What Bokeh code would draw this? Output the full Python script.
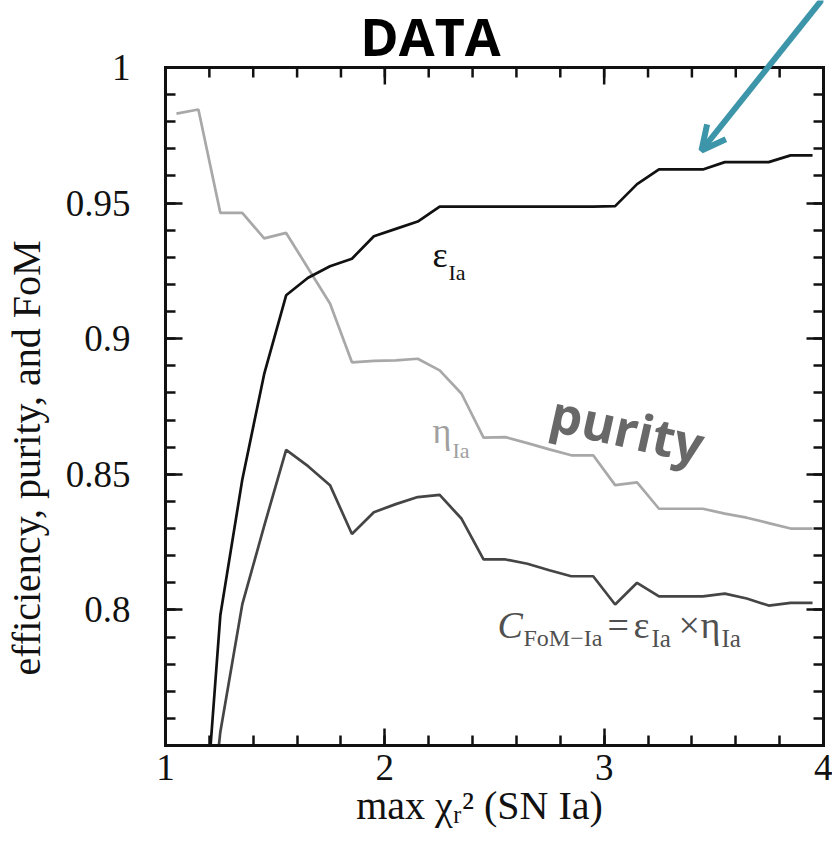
from bokeh.plotting import figure
from bokeh.models import (Range1d, LinearAxis, FixedTicker, CustomJSTickFormatter,
                          Label, Arrow, OpenHead)
from bokeh.embed import file_html
from bokeh.resources import INLINE
import numpy as np

# ---------------- data ----------------
max_chi2 = [1.05, 1.15, 1.25, 1.35, 1.45, 1.55, 1.65, 1.75, 1.85, 1.95,
            2.05, 2.15, 2.25, 2.35, 2.45, 2.55, 2.65, 2.75, 2.85, 2.95,
            3.05, 3.15, 3.25, 3.35, 3.45, 3.55, 3.65, 3.75, 3.85, 3.95]

efficiency = [0.600, 0.690, 0.798, 0.848, 0.887, 0.916, 0.9225, 0.9267, 0.9295, 0.9378,
              0.9405, 0.9432, 0.9487, 0.9487, 0.9487, 0.9487, 0.9487, 0.9487, 0.9487, 0.9487,
              0.9489, 0.9570, 0.9624, 0.9624, 0.9624, 0.9651, 0.9651, 0.9651, 0.9676, 0.9676]

purity = [0.983, 0.9845, 0.9464, 0.9464, 0.937, 0.939, 0.926, 0.913, 0.8913, 0.8918,
          0.892, 0.8926, 0.8883, 0.8797, 0.8635, 0.8637, 0.8615, 0.8592, 0.857, 0.857,
          0.846, 0.847, 0.8373, 0.8373, 0.8373, 0.8355, 0.834, 0.832, 0.830, 0.830]

fom = [0.590, 0.680, 0.755, 0.802, 0.831, 0.859, 0.853, 0.846, 0.828, 0.836,
       0.839, 0.8416, 0.8424, 0.8336, 0.8186, 0.8186, 0.817, 0.8146, 0.8124, 0.8124,
       0.802, 0.810, 0.805, 0.805, 0.805, 0.806, 0.8042, 0.8016, 0.8026, 0.8026]

x_major = [1, 2, 3, 4]
y_major = [0.8, 0.85, 0.9, 0.95, 1]

# ---------------- layout ----------------
W, H = 832, 847
FL, FR, FT, FB = 165, 823, 67, 745      # box of the axes, in page pixels
X0, X1, Y0, Y1 = 1.0, 4.0, 0.75, 1.0
# the frame reaches up to the page top so the slide decorations above the box can be drawn
YTOP = Y1 + FT * (Y1 - Y0) / (FB - FT)

def dx(px):
    return X0 + (px - FL) * (X1 - X0) / (FR - FL)

def dy(py):
    return Y1 - (py - FT) * (Y1 - Y0) / (FB - FT)

def dlen(pix):
    return pix * (Y1 - Y0) / (FB - FT)

SERIF = "Liberation Serif"
INK = "#111111"
# half of (ascent - descent) in em: distance from the middle of the text box to the baseline
MID = {SERIF: 0.3375, "Open Sans": 0.388}

p = figure(width=W, height=H, output_backend="svg", toolbar_location=None,
           x_range=Range1d(X0, X1), y_range=Range1d(Y0, YTOP),
           x_axis_type=None, y_axis_type=None,
           min_border_left=FL, min_border_right=W - FR,
           min_border_top=0, min_border_bottom=H - FB)
p.grid.visible = False
p.background_fill_color = "white"
p.border_fill_color = "white"
p.outline_line_color = None

x_minor = list(np.round(np.arange(1.0, 4.0001, 0.2), 3))
y_minor = list(np.round(np.arange(0.75, 1.0001, 0.01), 3))
fmt = CustomJSTickFormatter(code="return tick.toString();")
blank = CustomJSTickFormatter(code="return '';")

def style_axis(ax, labels=True):
    ax.axis_line_color = INK
    ax.axis_line_width = 3
    ax.axis_line_cap = "square"
    ax.major_tick_in = 17
    ax.major_tick_out = 0
    ax.minor_tick_in = 10
    ax.minor_tick_out = 0
    ax.major_tick_line_color = INK
    ax.minor_tick_line_color = INK
    ax.major_tick_line_width = 2.5
    ax.minor_tick_line_width = 2.5
    if labels:
        ax.major_label_text_font = SERIF
        ax.major_label_text_font_size = "37px"
        ax.major_label_text_color = INK
        ax.axis_label_text_font = SERIF
        ax.axis_label_text_font_style = "normal"
        ax.axis_label_text_color = INK
    else:
        ax.major_label_text_font_size = "0px"
        ax.major_label_standoff = 0

NB = "\u00a0"
xb = LinearAxis(ticker=FixedTicker(ticks=x_major, minor_ticks=x_minor), formatter=fmt,
                axis_label="max \u03c7\u1d63\u00b2 (SN Ia)" + NB * 3)
style_axis(xb)
xb.axis_label_text_font_size = "40px"
xb.major_label_standoff = 9
xb.axis_label_standoff = 0
p.add_layout(xb, "below")

# the axis label is centred on the whole frame (which reaches the page top), so
# trailing no-break spaces move the visible words down to where they sit in the reference
yl = LinearAxis(ticker=FixedTicker(ticks=y_major, minor_ticks=y_minor), formatter=fmt,
                axis_label="efficiency, purity, and FoM" + NB * 17, bounds=(Y0, Y1))
style_axis(yl)
yl.axis_label_text_font_size = "40px"
yl.major_label_standoff = 35
yl.axis_label_standoff = 14
p.add_layout(yl, "left")

yr = LinearAxis(ticker=FixedTicker(ticks=y_major, minor_ticks=y_minor), formatter=blank,
                bounds=(Y0, Y1))
style_axis(yr, labels=False)
p.add_layout(yr, "right")

# top edge of the box with its inward ticks (same tick positions as the bottom axis)
p.line([X0, X1], [Y1, Y1], line_color=INK, line_width=3)
p.segment(x0=x_minor, y0=[Y1] * len(x_minor), x1=x_minor,
          y1=[Y1 - dlen(10)] * len(x_minor), line_color=INK, line_width=2.5)
p.segment(x0=x_major, y0=[Y1] * len(x_major), x1=x_major,
          y1=[Y1 - dlen(17)] * len(x_major), line_color=INK, line_width=2.5)

# ---------------- lines ----------------
p.line(max_chi2, purity, line_color="#a8a8a8", line_width=2.7)
p.line(max_chi2, fom, line_color="#454545", line_width=2.7)
p.line(max_chi2, efficiency, line_color=INK, line_width=2.7)

# ---------------- text annotations ----------------
def lab(px, base_py, text, size, color, font=SERIF, style="normal", align="left", angle=0.0):
    py = base_py - MID[font] * size
    p.add_layout(Label(x=dx(px), y=dy(py), text=text, text_font=font,
                       text_font_size=f"{size}px", text_color=color,
                       text_font_style=style, text_align=align,
                       text_baseline="middle", angle=angle))

# epsilon_Ia
lab(432, 267, "\u03b5", 36, INK)
lab(448, 279, "Ia", 22, INK)
# eta_Ia
lab(432, 443, "\u03b7", 36, "#a0a0a0")
lab(452, 457, "Ia", 22, "#a0a0a0")
# C_FoM-Ia = eps_Ia x eta_Ia
cf = "#505050"
lab(497, 637, "C", 38, cf, style="italic")
lab(523, 646, "FoM\u2212Ia", 24, cf)
lab(607, 637, "=", 38, cf)
lab(633, 637, "\u03b5", 38, cf)
lab(651, 646, "Ia", 25, cf)
lab(678, 637, "\u00d7", 38, cf)
lab(700, 637, "\u03b7", 38, cf)
lab(721, 646, "Ia", 25, cf)

# slide decorations
lab(430, 55, "DATA", 52, "#000000", font="Open Sans", style="bold", align="center")
lab(551, 430, "purity", 51, "#686868", font="Open Sans", style="bold", angle=-0.22)

teal = "#3d95a9"
p.add_layout(Arrow(end=OpenHead(line_color=teal, line_width=6, size=24),
                   x_start=dx(824), y_start=dy(-4), x_end=dx(701), y_end=dy(150),
                   line_color=teal, line_width=6))

open("out.html", "w").write(file_html(p, INLINE))
